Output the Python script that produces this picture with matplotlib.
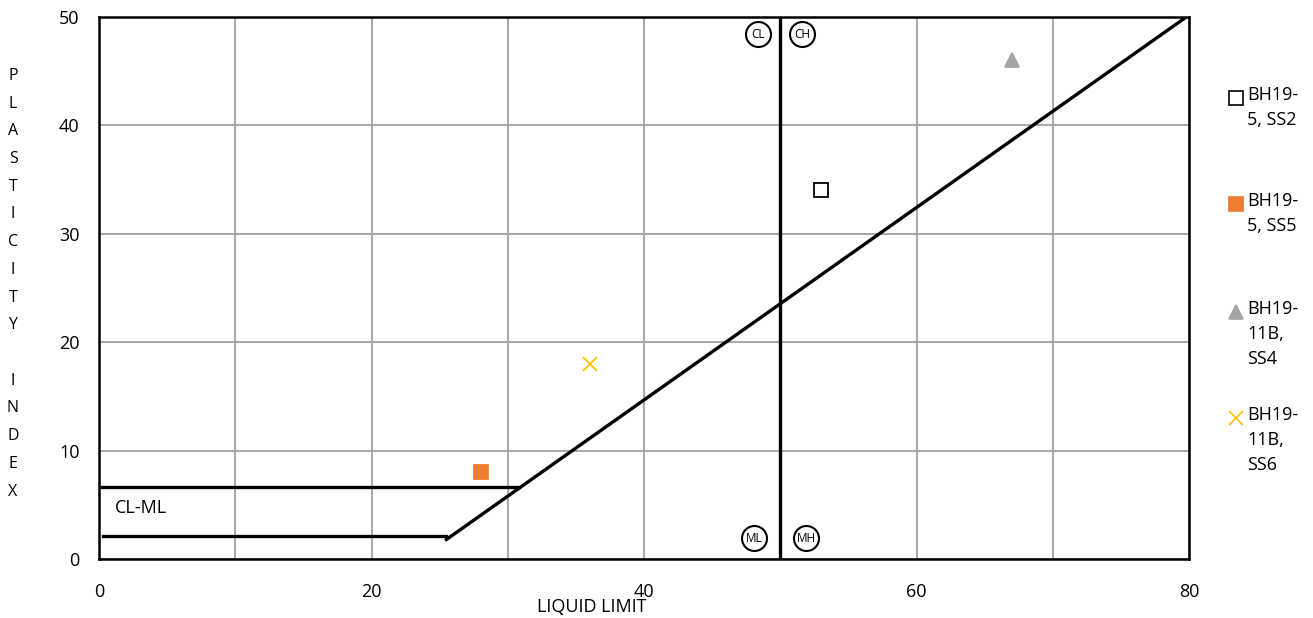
import matplotlib

matplotlib.use("Agg")
import matplotlib.pyplot as plt
from matplotlib.lines import Line2D

plt.rcParams["font.family"] = ["Open Sans", "DejaVu Sans"]

# sample points (liquid limit, plasticity index)
SAMPLES = ["BH19-\n5, SS2", "BH19-\n5, SS5", "BH19-\n11B,\nSS4", "BH19-\n11B,\nSS6"]
LL = [53, 28, 67, 36]
PI = [34, 8, 46, 18]
MARKERS = ["s", "s", "^", "x"]
FACES = ["white", "#ED7D31", "#A5A5A5", "#FFC000"]
EDGES = ["black", "#ED7D31", "#A5A5A5", "#FFC000"]

# chart boundary lines
A_LINE_X = [25.5, 79.8]
A_LINE_Y = [1.8, 50]
LOW_X = [0.3, 25.5]
LOW_Y = [2.1, 2.1]
HIGH_X = [0.2, 30.8]
HIGH_Y = [6.6, 6.6]
LL50_X = [50, 50]
LL50_Y = [0, 50]

ZONES = ["CL", "CH", "ML", "MH"]
ZONE_X = [48.4, 51.6, 48.1, 51.9]
ZONE_Y = [48.4, 48.4, 1.9, 1.9]

fig = plt.figure(figsize=(13.13, 6.18), dpi=100)
ax = fig.add_axes([0.0754, 0.0955, 0.8302, 0.877])
ax.set_xlim(0, 80)
ax.set_ylim(0, 50)
ax.set_xticks(range(0, 81, 20))
ax.set_xticks(range(0, 81, 10), minor=True)
ax.set_yticks(range(0, 51, 10))
ax.grid(True, which="both", color="#a0a0a0", linewidth=1.3)
ax.tick_params(which="both", length=0, labelsize=13)
ax.tick_params(axis="x", pad=17)
ax.tick_params(axis="y", pad=14)
for sp in ax.spines.values():
    sp.set_linewidth(1.8)
    sp.set_color("black")
ax.set_axisbelow(True)

lw = 2.4
ax.plot(A_LINE_X, A_LINE_Y, color="black", lw=lw)
ax.plot(LOW_X, LOW_Y, color="black", lw=lw)
ax.plot(HIGH_X, HIGH_Y, color="black", lw=lw)
ax.plot(LL50_X, LL50_Y, color="black", lw=lw)
ax.text(1.2, 4.7, "CL-ML", fontsize=13, va="center", ha="left")

for z, x, y in zip(ZONES, ZONE_X, ZONE_Y):
    ax.plot(x, y, marker="o", markersize=18, markerfacecolor="white",
            markeredgecolor="black", markeredgewidth=1.5, linestyle="none", zorder=6)
    ax.text(x, y, z, fontsize=8.5, ha="center", va="center", zorder=7)

for i in range(len(SAMPLES)):
    ax.plot(LL[i], PI[i], marker=MARKERS[i], markersize=10,
            markerfacecolor=FACES[i], markeredgecolor=EDGES[i],
            markeredgewidth=1.3, linestyle="none", zorder=5)

# legend drawn by hand so the marker sits on the first text line
leg_y = [1 - 98 / 618, 1 - 204 / 618, 1 - 312 / 618, 1 - 418 / 618]
for i, lab in enumerate(SAMPLES):
    fig.add_artist(Line2D([1236 / 1313], [leg_y[i]], marker=MARKERS[i],
                          markersize=9.5,
                          markerfacecolor=FACES[i], markeredgecolor=EDGES[i],
                          markeredgewidth=1.2, linestyle="none",
                          transform=fig.transFigure))
    fig.text(1247 / 1313, leg_y[i] + 12 / 618, lab, fontsize=13, va="top", ha="left",
             linespacing=1.5)

fig.text(592 / 1313, 1 - 607 / 618, "LIQUID LIMIT", fontsize=13, ha="center", va="center")

ylabel = "PLASTICITY INDEX"
for k, ch in enumerate(ylabel):
    if ch == " ":
        continue
    fig.text(13 / 1313, 1 - (76 + k * 27.7) / 618, ch, fontsize=11.5,
             ha="center", va="center")

fig.savefig("out.png", dpi=100)
